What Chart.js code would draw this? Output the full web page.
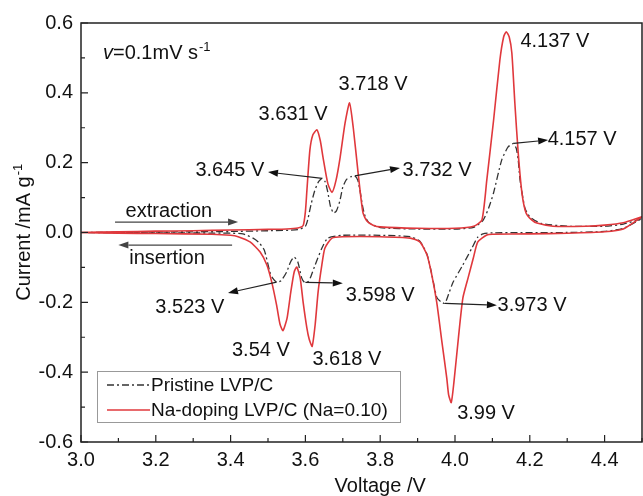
<!DOCTYPE html>
<html>
<head>
<meta charset="utf-8">
<script src="https://cdn.jsdelivr.net/npm/chart.js@4"></script>
<style>
  html, body { margin: 0; padding: 0; background: #fff; }
</style>
</head>
<body>
<canvas id="cv_chart" width="643" height="496"></canvas>
<script>
// Na-doping LVP/C (Na=0.10), anodic sweep 3.0 -> 4.5 V
let na_upV = [3.00, 3.10, 3.20, 3.30, 3.40, 3.50, 3.55, 3.58, 3.594, 3.600, 3.604, 3.612, 3.620, 3.631, 3.640, 3.647, 3.660, 3.671, 3.682, 3.693, 3.706, 3.718, 3.728, 3.741, 3.754, 3.765, 3.781, 3.80, 3.90, 4.00, 4.05, 4.072, 4.085, 4.103, 4.120, 4.130, 4.137, 4.145, 4.152, 4.160, 4.169, 4.179, 4.190, 4.205, 4.219, 4.262, 4.35, 4.40, 4.45, 4.50];
let na_upI = [0.000, 0.002, 0.004, 0.005, 0.007, 0.009, 0.010, 0.013, 0.020, 0.060, 0.120, 0.236, 0.280, 0.294, 0.262, 0.216, 0.140, 0.115, 0.150, 0.216, 0.313, 0.371, 0.300, 0.170, 0.056, 0.032, 0.021, 0.016, 0.012, 0.012, 0.018, 0.036, 0.150, 0.320, 0.494, 0.560, 0.575, 0.560, 0.514, 0.371, 0.228, 0.113, 0.056, 0.036, 0.027, 0.018, 0.018, 0.021, 0.028, 0.045];

// Na-doping LVP/C, cathodic sweep 4.5 -> 3.0 V
let na_downV = [4.50, 4.45, 4.40, 4.30, 4.20, 4.10, 4.085, 4.061, 4.049, 4.035, 4.021, 4.009, 3.997, 3.990, 3.983, 3.978, 3.965, 3.951, 3.938, 3.925, 3.906, 3.88, 3.80, 3.70, 3.671, 3.652, 3.644, 3.634, 3.626, 3.618, 3.610, 3.604, 3.594, 3.586, 3.577, 3.570, 3.561, 3.551, 3.540, 3.532, 3.523, 3.510, 3.497, 3.479, 3.452, 3.42, 3.40, 3.35, 3.20, 3.10, 3.00];
let na_downI = [0.045, 0.010, 0.002, -0.002, -0.004, -0.005, -0.007, -0.027, -0.073, -0.130, -0.188, -0.303, -0.430, -0.487, -0.465, -0.417, -0.313, -0.199, -0.122, -0.064, -0.027, -0.016, -0.012, -0.012, -0.016, -0.045, -0.093, -0.170, -0.265, -0.326, -0.305, -0.274, -0.200, -0.130, -0.099, -0.113, -0.170, -0.245, -0.281, -0.262, -0.208, -0.142, -0.093, -0.056, -0.027, -0.012, -0.008, -0.005, -0.003, -0.002, 0.000];

// Pristine LVP/C, anodic sweep
let pr_upV = [3.00, 3.20, 3.40, 3.50, 3.58, 3.600, 3.607, 3.615, 3.625, 3.635, 3.645, 3.653, 3.660, 3.667, 3.675, 3.683, 3.692, 3.700, 3.710, 3.722, 3.732, 3.740, 3.746, 3.753, 3.760, 3.770, 3.80, 3.90, 4.00, 4.05, 4.075, 4.090, 4.103, 4.125, 4.142, 4.157, 4.164, 4.169, 4.174, 4.187, 4.200, 4.230, 4.30, 4.40, 4.45, 4.50];
let pr_upI = [0.000, 0.001, 0.003, 0.005, 0.008, 0.018, 0.040, 0.080, 0.120, 0.145, 0.155, 0.145, 0.115, 0.075, 0.056, 0.062, 0.090, 0.130, 0.152, 0.160, 0.162, 0.150, 0.120, 0.075, 0.045, 0.028, 0.014, 0.010, 0.010, 0.015, 0.035, 0.070, 0.113, 0.208, 0.245, 0.255, 0.240, 0.208, 0.150, 0.070, 0.045, 0.026, 0.018, 0.018, 0.024, 0.040];

// Pristine LVP/C, cathodic sweep
let pr_downV = [4.50, 4.45, 4.40, 4.30, 4.10, 4.075, 4.061, 4.045, 4.021, 3.995, 3.985, 3.973, 3.962, 3.951, 3.938, 3.925, 3.906, 3.88, 3.80, 3.70, 3.660, 3.644, 3.626, 3.615, 3.608, 3.598, 3.590, 3.580, 3.570, 3.560, 3.550, 3.535, 3.523, 3.512, 3.505, 3.490, 3.475, 3.46, 3.433, 3.40, 3.20, 3.00];
let pr_downI = [0.040, 0.012, 0.003, 0.000, -0.001, -0.004, -0.013, -0.045, -0.093, -0.142, -0.170, -0.203, -0.198, -0.185, -0.120, -0.062, -0.025, -0.012, -0.008, -0.008, -0.016, -0.045, -0.093, -0.125, -0.140, -0.143, -0.130, -0.085, -0.070, -0.085, -0.113, -0.138, -0.142, -0.130, -0.113, -0.050, -0.028, -0.016, -0.004, -0.002, -0.001, 0.000];

let xTicks = [3.0, 3.2, 3.4, 3.6, 3.8, 4.0, 4.2, 4.4];
let yTicks = [-0.6, -0.4, -0.2, 0.0, 0.2, 0.4, 0.6];

let seriesNames = ['Pristine LVP/C', 'Na-doping LVP/C (Na=0.10)'];

// peak labels: text spot and (optional) arrow from the peak to the text
const notes = [
    { v: 3.631, tx: 3.567, ty: 0.337 },
    { v: 3.718, tx: 3.781, ty: 0.423 },
    { v: 4.137, tx: 4.267, ty: 0.546 },
    { v: 3.54, tx: 3.481, ty: -0.337 },
    { v: 3.618, tx: 3.711, ty: -0.365 },
    { v: 3.99, tx: 4.083, ty: -0.517 },
    { v: 3.645, tx: 3.398, ty: 0.179, from: [3.645, 0.155], to: [3.50, 0.173] },
    { v: 3.732, tx: 3.952, ty: 0.179, from: [3.732, 0.162], to: [3.853, 0.185] },
    { v: 4.157, tx: 4.340, ty: 0.265, from: [4.157, 0.255], to: [4.249, 0.265] },
    { v: 3.523, tx: 3.291, ty: -0.216, from: [3.523, -0.142], to: [3.393, -0.173] },
    { v: 3.598, tx: 3.800, ty: -0.179, from: [3.600, -0.143], to: [3.700, -0.145] },
    { v: 3.973, tx: 4.206, ty: -0.208, from: [3.973, -0.203], to: [4.112, -0.208] }
];

const FAMILY = '"Liberation Sans", Arial, sans-serif';
const FONT = '20px ' + FAMILY;
const RED = '#e0383c';
const DARK = '#333';

function zip(vs, is) {
    return vs.map((v, k) => ({ x: v, y: is[k] }));
}

function arrow(ctx, x1, y1, x2, y2) {
    const a = Math.atan2(y2 - y1, x2 - x1);
    const L = 10, W = 3.5;
    ctx.beginPath();
    ctx.moveTo(x1, y1);
    ctx.lineTo(x2 - L * Math.cos(a), y2 - L * Math.sin(a));
    ctx.stroke();
    ctx.beginPath();
    ctx.moveTo(x2, y2);
    ctx.lineTo(x2 - L * Math.cos(a) + W * Math.sin(a), y2 - L * Math.sin(a) - W * Math.cos(a));
    ctx.lineTo(x2 - L * Math.cos(a) - W * Math.sin(a), y2 - L * Math.sin(a) + W * Math.cos(a));
    ctx.closePath();
    ctx.fill();
}

// text followed by a small raised "-1"
function textSup(ctx, x, y, main, sup) {
    ctx.font = FONT;
    ctx.fillText(main, x, y);
    const w = ctx.measureText(main).width;
    ctx.font = '13px ' + FAMILY;
    ctx.fillText(sup, x + w + 1, y - 8);
    ctx.font = FONT;
}

const decorPlugin = {
    id: 'decor',
    afterDraw(chart) {
        const ctx = chart.ctx;
        const sx = chart.scales.x, sy = chart.scales.y;
        const a = chart.chartArea;
        const X = v => sx.getPixelForValue(v);
        const Y = v => sy.getPixelForValue(v);
        ctx.save();

        // frame
        ctx.strokeStyle = '#222';
        ctx.lineWidth = 1.5;
        ctx.strokeRect(a.left, a.top, a.right - a.left, a.bottom - a.top);

        // inward ticks on bottom and left axes
        ctx.lineWidth = 1.2;
        ctx.beginPath();
        for (let k = 0; k <= 15; k++) {
            const px = X(3 + k * 0.1);
            const len = k % 2 === 0 ? 7 : 4;
            ctx.moveTo(px, a.bottom);
            ctx.lineTo(px, a.bottom - len);
        }
        for (let k = 0; k <= 12; k++) {
            const py = Y(-0.6 + k * 0.1);
            const len = k % 2 === 0 ? 7 : 4;
            ctx.moveTo(a.left, py);
            ctx.lineTo(a.left + len, py);
        }
        ctx.stroke();

        ctx.fillStyle = '#111';
        ctx.strokeStyle = '#222';
        ctx.font = FONT;
        ctx.textAlign = 'center';
        ctx.textBaseline = 'middle';

        // peak labels and arrows
        ctx.lineWidth = 1.2;
        notes.forEach(n => {
            ctx.fillText(String(n.v) + ' V', X(n.tx), Y(n.ty));
            if (n.from) {
                arrow(ctx, X(n.from[0]), Y(n.from[1]), X(n.to[0]), Y(n.to[1]));
            }
        });

        // sweep direction
        ctx.fillText('extraction', X(3.235), Y(0.060));
        ctx.fillText('insertion', X(3.230), Y(-0.073));
        ctx.strokeStyle = '#444';
        ctx.fillStyle = '#444';
        arrow(ctx, X(3.091), Y(0.030), X(3.42), Y(0.030));
        arrow(ctx, X(3.404), Y(-0.036), X(3.100), Y(-0.036));

        // scan rate
        ctx.fillStyle = '#111';
        ctx.textAlign = 'left';
        ctx.textBaseline = 'alphabetic';
        ctx.font = 'italic 20px ' + FAMILY;
        ctx.fillText('v', 103, 59);
        const vw = ctx.measureText('v').width;
        textSup(ctx, 103 + vw, 59, '=0.1mV s', '-1');

        // axis titles
        ctx.textAlign = 'center';
        ctx.font = FONT;
        ctx.fillText('Voltage /V', X(3.8), 492);
        ctx.save();
        ctx.translate(30, (a.top + a.bottom) / 2);
        ctx.rotate(-Math.PI / 2);
        const mainT = 'Current /mA g';
        const wT = ctx.measureText(mainT).width;
        ctx.textAlign = 'left';
        textSup(ctx, -(wT + 12) / 2, 0, mainT, '-1');
        ctx.restore();

        // legend box
        ctx.strokeStyle = '#999';
        ctx.lineWidth = 1;
        ctx.strokeRect(97.5, 371.5, 303, 51);
        ctx.lineWidth = 1.4;
        ctx.strokeStyle = DARK;
        ctx.setLineDash([7, 3, 2, 3]);
        ctx.beginPath();
        ctx.moveTo(107, 385);
        ctx.lineTo(150, 385);
        ctx.stroke();
        ctx.setLineDash([]);
        ctx.strokeStyle = RED;
        ctx.lineWidth = 1.6;
        ctx.beginPath();
        ctx.moveTo(107, 410);
        ctx.lineTo(150, 410);
        ctx.stroke();
        ctx.textAlign = 'left';
        ctx.textBaseline = 'middle';
        ctx.fillStyle = '#111';
        ctx.font = '19px ' + FAMILY;
        ctx.fillText(seriesNames[0], 151, 386);
        ctx.fillText(seriesNames[1], 151, 411);

        ctx.restore();
    }
};

const cv_data = {
    datasets: [
        {
            label: seriesNames[1],
            data: zip(na_upV, na_upI).concat(zip(na_downV, na_downI)),
            borderColor: RED,
            borderWidth: 1.6,
            pointRadius: 0,
            tension: 0.2,
            order: 0
        },
        {
            label: seriesNames[0],
            data: zip(pr_upV, pr_upI).concat(zip(pr_downV, pr_downI)),
            borderColor: DARK,
            borderWidth: 1.3,
            borderDash: [7, 3, 2, 3],
            pointRadius: 0,
            tension: 0.2,
            order: 1
        }
    ]
};

const cv_config = {
    type: 'line',
    data: cv_data,
    options: {
        responsive: false,
        animation: false,
        layout: { padding: { left: 0, top: 23, right: 1, bottom: 0 } },
        plugins: {
            legend: { display: false },
            tooltip: { enabled: false }
        },
        scales: {
            x: {
                type: 'linear',
                min: 3.0,
                max: 4.5,
                grid: { display: false, drawTicks: false },
                border: { display: false },
                afterFit: s => { s.height = 54; },
                afterBuildTicks: s => { s.ticks = xTicks.map(v => ({ value: v })); },
                ticks: {
                    padding: 6,
                    color: '#111',
                    font: { size: 20, family: FAMILY },
                    maxRotation: 0,
                    callback: v => v.toFixed(1)
                }
            },
            y: {
                type: 'linear',
                min: -0.6,
                max: 0.6,
                grid: { display: false, drawTicks: false },
                border: { display: false },
                afterFit: s => { s.width = 81; },
                afterBuildTicks: s => { s.ticks = yTicks.map(v => ({ value: v })); },
                ticks: {
                    padding: 8,
                    color: '#111',
                    font: { size: 20, family: FAMILY },
                    callback: v => v.toFixed(1)
                }
            }
        }
    },
    plugins: [decorPlugin]
};

const cv_chart = new Chart(document.getElementById('cv_chart'), cv_config);
</script>
</body>
</html>
